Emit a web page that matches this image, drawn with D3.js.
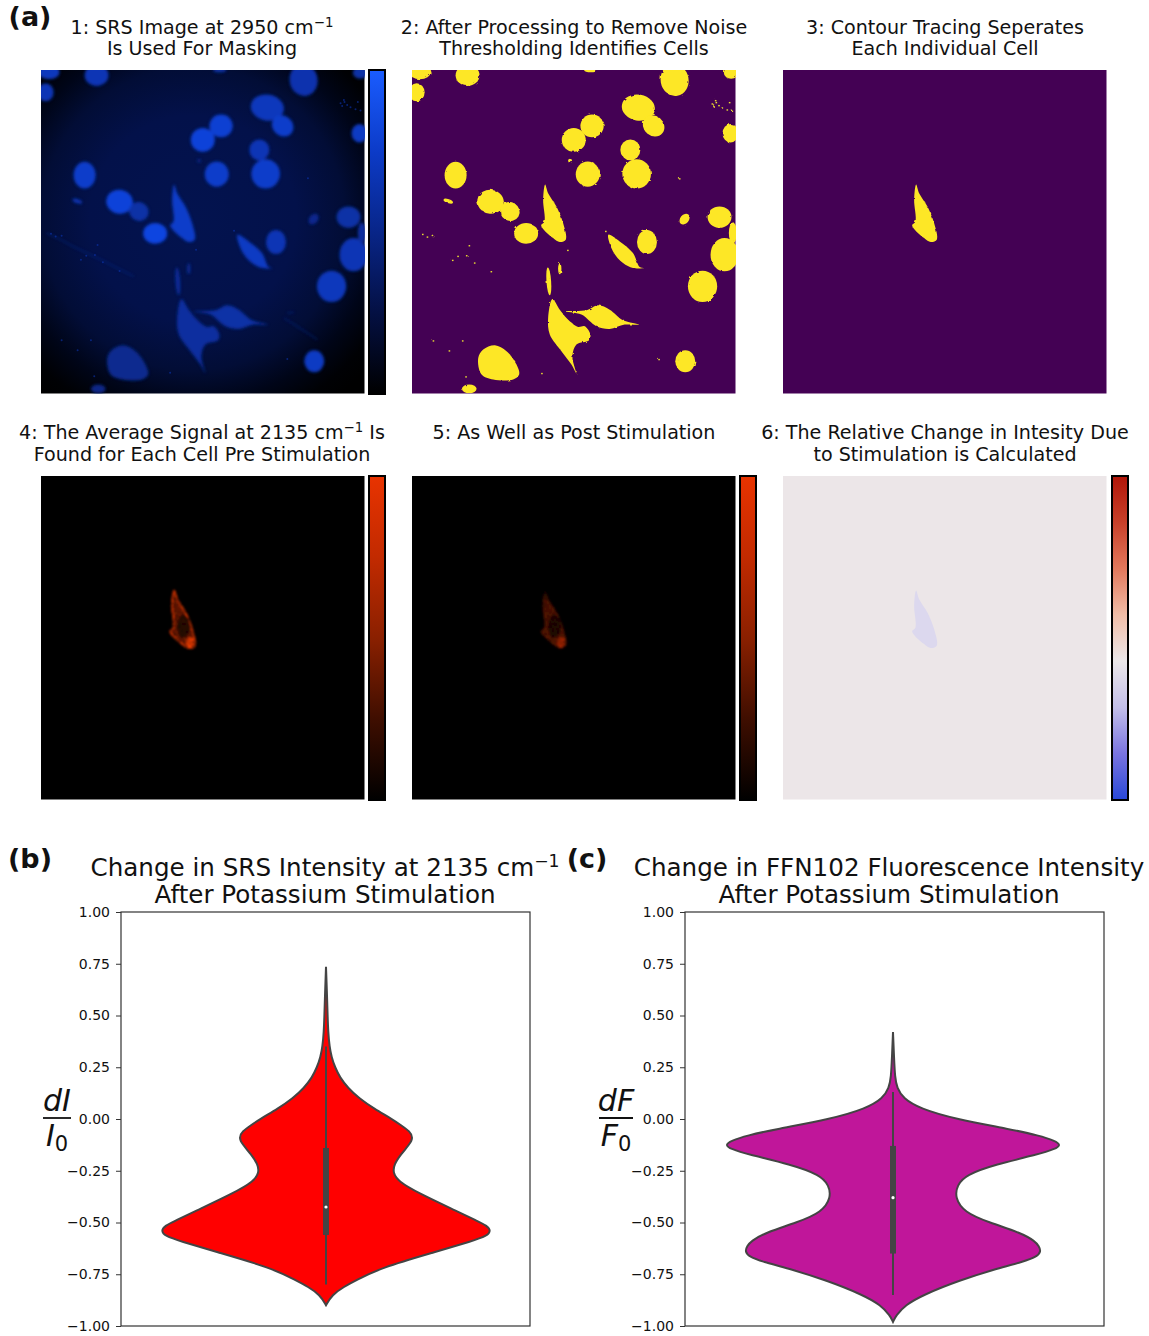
<!DOCTYPE html>
<html><head><meta charset="utf-8">
<script src="https://cdn.jsdelivr.net/npm/d3@7"></script>
<style>html,body{margin:0;padding:0;background:#fff}svg{display:block}text{font-family:"DejaVu Sans",sans-serif;fill:#111}</style>
</head><body><svg id="c" width="1149" height="1336"></svg>
<script>
// ---- DATA ----
// image domain is 0..972 in both directions
const cellEllipses = [ // cx, cy, rx, ry, rotation, brightness
[24,6,32,22,0,.75],[14,67,24,27,0,.7],[167,16,36,32,0,.7],[537,0,20,7,0,.6],[789,30,42,48,-10,.65],[959,8,22,18,0,.6],
[680,113,50,39,10,.75],[726,168,34,30,40,.85],[541,168,35,34,0,.9],[486,210,36,36,0,.95],[957,190,24,28,0,.8],
[656,240,30,31,0,.7],[675,312,43,44,0,.85],[528,313,36,38,0,.85],[131,316,33,40,0,.85],[236,396,40,36,10,.95],
[294,425,30,28,30,.6],[343,491,36,31,0,1],[109,394,15,6,20,.7],[475,273,6,6,0,.3],[819,448,18,13,-50,.4],
[924,442,36,32,0,.6],[706,517,30,36,0,.7],[939,555,42,50,0,.7],[873,650,44,47,0,.75],[821,875,30,33,0,.8],
[444,597,5,17,0,.45],[411,635,7,42,-4,.5],[172,958,22,13,0,.35],[964,490,12,32,0,.55]];
const targetCell = [[400,344],[409,370],[434,410],[454,460],[462,510],[444,517],[424,505],[388,467],[398,455],[394,390]];
const otherCells = [
[[590,495],[624,515],[664,550],[684,592],[697,595],[664,595],[634,580],[604,545]],
[[422,688],[444,720],[474,755],[499,772],[519,770],[536,795],[532,812],[494,825],[482,860],[489,895],[494,912],[479,885],[449,845],[414,795],[409,745]],
[[459,725],[524,722],[559,707],[594,720],[634,752],[682,765],[639,765],[594,778],[554,770],[509,735]],
[[249,827],[284,845],[314,885],[322,915],[304,930],[244,930],[209,915],[199,865],[214,840]]];
const cellBrightness = [.8,.55,.6,.42];
const targetBrightness = .85;
const specks = [[900,100],[912,96],[920,105],[905,108],[930,112],[945,118],[960,122],[952,96],[910,90],[62,498],[170,526],[802,325],[725,525],[162,556],[136,558],[466,540],[120,570],[186,578],[798,870],[740,868],[388,910],[160,920],[62,812],[150,812],[110,842],[236,604],[580,483],[30,492],[44,500]];
const streaks = [[[16,490],[56,508],[96,530],[180,570],[278,620]],[[740,730],[760,728]],[[730,745],[800,790],[830,810]]];
const blueStops = ["#000000","#041043","#082588","#0c3bc8","#1a5cff"];
const redStops = ["#000000","#3f0e00","#8a2000","#c22a00","#e83300"];
const coolStops = ["#2948d8","#7a74e0","#c3bfea","#ece8ea","#f1bda7","#e2785c","#c8402a","#b01508"];
const yTicks = [1,.75,.5,.25,0,-.25,-.5,-.75,-1];
const violinB = [[.735,0],[.6,1],[.5,1.6],[.42,2.2],[.35,3.5],[.3,5.5],[.25,9],[.2,14],[.15,22],[.1,33],[.05,48],[0,66],[-.03,75],[-.06,84],[-.09,87],[-.12,84],[-.17,75],[-.22,68],[-.26,67],[-.3,72],[-.357,92],[-.45,133],[-.49,150],[-.515,161],[-.54,165],[-.565,161],[-.59,146],[-.64,111],[-.72,54],[-.78,30],[-.81,18],[-.85,6],[-.9,0]];
const violinC = [[.42,0],[.3,1],[.2,2],[.15,4],[.1,10],[.05,27],[0,62],[-.05,118],[-.08,146],[-.105,162],[-.125,168],[-.145,162],[-.17,146],[-.22,102],[-.27,73],[-.32,64],[-.38,62],[-.45,71],[-.5,96],[-.55,128],[-.59,142],[-.615,146],[-.64,148],[-.665,144],[-.69,130],[-.72,106],[-.78,66],[-.85,30],[-.9,12],[-.95,3],[-.98,0]];
const boxB = {whisker:[.35,-.8], q:[-.14,-.56], median:-.425};
const boxC = {whisker:[.13,-.85], q:[-.13,-.65], median:-.38};

// ---- LAYOUT ----
const svg = d3.select("#c"), defs = svg.append("defs");
const S = 323.5;
const px = d3.scaleLinear().domain([0,972]).range([0,S]);
const centered = (sel,x,y,size,weight)=>sel.attr("x",x).attr("y",y).attr("text-anchor","middle").style("font-size",size+"px").style("font-weight",weight||"normal");
function sup(t,x,y,size,a,b,c){ // text with superscript
  const el = centered(t.append("text"),x,y,size);
  el.append("tspan").text(a);
  el.append("tspan").attr("dy",-size*.36).style("font-size",(size*.7)+"px").text(b);
  if(c) el.append("tspan").attr("dy",size*.36).text(c);
}
const t = svg.append("g");
const TF = 19.1;
centered(t.append("text"),30,26,27,"bold").text("(a)");
centered(t.append("text"),30,868,27,"bold").text("(b)");
centered(t.append("text"),587,868,27,"bold").text("(c)");
sup(t,202,34,TF,"1: SRS Image at 2950 cm","−1");
centered(t.append("text"),202,55,TF).text("Is Used For Masking");
centered(t.append("text"),574,34,TF).text("2: After Processing to Remove Noise");
centered(t.append("text"),574,55,TF).text("Thresholding Identifies Cells");
centered(t.append("text"),945,34,TF).text("3: Contour Tracing Seperates");
centered(t.append("text"),945,55,TF).text("Each Individual Cell");
sup(t,202,439,TF,"4: The Average Signal at 2135 cm","−1"," Is");
centered(t.append("text"),202,461,TF).text("Found for Each Cell Pre Stimulation");
centered(t.append("text"),574,439,TF).text("5: As Well as Post Stimulation");
centered(t.append("text"),945,439,TF).text("6: The Relative Change in Intesity Due");
centered(t.append("text"),945,461,TF).text("to Stimulation is Calculated");
sup(t,325,876,24.6,"Change in SRS Intensity at 2135 cm","−1");
centered(t.append("text"),325,903,24.6).text("After Potassium Stimulation");
centered(t.append("text"),889,876,24.6).text("Change in FFN102 Fluorescence Intensity");
centered(t.append("text"),889,903,24.6).text("After Potassium Stimulation");

// filters
const blur=(id,s)=>defs.append("filter").attr("id",id).attr("x","-30%").attr("y","-30%").attr("width","160%").attr("height","160%").append("feGaussianBlur").attr("stdDeviation",s);
blur("b1",1.4);
const rough = defs.append("filter").attr("id","rough").attr("x","-5%").attr("y","-5%").attr("width","110%").attr("height","110%");
rough.append("feTurbulence").attr("type","fractalNoise").attr("baseFrequency",.22).attr("numOctaves",2).attr("seed",4).attr("result","n");
rough.append("feDisplacementMap").attr("in","SourceGraphic").attr("in2","n").attr("scale",2.6);
const grain = defs.append("filter").attr("id","grain").attr("x","-20%").attr("y","-20%").attr("width","140%").attr("height","140%");
grain.append("feTurbulence").attr("type","fractalNoise").attr("baseFrequency",.4).attr("numOctaves",2).attr("seed",7).attr("result","n");
grain.append("feColorMatrix").attr("in","n").attr("type","matrix").attr("values","0 0 0 0 0  0 0 0 0 0  0 0 0 0 0  1.6 0 0 0 -.05").attr("result","a");
grain.append("feComposite").attr("in","SourceGraphic").attr("in2","a").attr("operator","in").attr("result","g");
grain.append("feGaussianBlur").attr("in","g").attr("stdDeviation",.8);
const vg = defs.append("radialGradient").attr("id","vig").attr("cx","47%").attr("cy","46%").attr("r","71%");
[[0,"#03134f"],[.45,"#03114a"],[.66,"#020d36"],[.8,"#000518"],[.92,"#000104"],[1,"#000"]].forEach(d=>vg.append("stop").attr("offset",d[0]).attr("stop-color",d[1]));
function cbGrad(id,stops){
  const g=defs.append("linearGradient").attr("id",id).attr("x1",0).attr("y1",1).attr("x2",0).attr("y2",0);
  stops.forEach((c,i)=>g.append("stop").attr("offset",i/(stops.length-1)).attr("stop-color",c));
}
cbGrad("cbBlue",blueStops);cbGrad("cbRed",redStops);cbGrad("cbCool",coolStops);

const smooth = d3.line().x(d=>px(d[0])).y(d=>px(d[1])).curve(d3.curveCatmullRomClosed.alpha(.5));
function panel(x,y,id,bg){
  defs.append("clipPath").attr("id","clip"+id).append("rect").attr("width",S).attr("height",S);
  const g = svg.append("g").attr("transform",`translate(${x},${y})`);
  g.append("rect").attr("width",S).attr("height",S).attr("fill",bg);
  return g.append("g").attr("clip-path",`url(#clip${id})`);
}
function colorbar(x,y,id){
  svg.append("rect").attr("x",x).attr("y",y).attr("width",16).attr("height",S+.5).attr("fill",`url(#${id})`).attr("stroke","#000").attr("stroke-width",2);
}
function drawCells(g,fillFn){
  g.selectAll("ellipse.c").data(cellEllipses).join("ellipse").attr("class","c")
   .attr("rx",d=>px(d[2])).attr("ry",d=>px(d[3]))
   .attr("transform",d=>`translate(${px(d[0])},${px(d[1])}) rotate(${d[4]})`)
   .attr("fill",d=>fillFn(d[5]));
  g.selectAll("path.o").data(otherCells).join("path").attr("class","o").attr("d",smooth).attr("fill",(d,i)=>fillFn(cellBrightness[i]));
  g.append("path").attr("d",smooth(targetCell)).attr("fill",fillFn(targetBrightness));
}
// Panel 1
const blueLevel = d3.scaleLinear().domain([0,.5,1]).range(["#06175f","#0a2c98","#1044e0"]);
const p1 = panel(41,70,1,"url(#vig)");
const p1c = p1.append("g").attr("filter","url(#b1)");
p1c.selectAll("path.s").data(streaks).join("path").attr("class","s").attr("d",d3.line().x(d=>px(d[0])).y(d=>px(d[1]))).attr("fill","none").attr("stroke","#0a2a90").attr("stroke-width",.8);
drawCells(p1c,blueLevel);
p1.append("g").selectAll("circle").data(specks).join("circle").attr("cx",d=>px(d[0])).attr("cy",d=>px(d[1])).attr("r",1).attr("fill","#0b36b0").attr("opacity",.6);
colorbar(369,70,"cbBlue");
// Panel 2
const p2 = panel(412,70,2,"#440154");
const p2c = p2.append("g").attr("filter","url(#rough)");
drawCells(p2c,()=>"#fde725");
p2.append("g").attr("filter","url(#rough)").selectAll("rect").data(specks).join("rect").attr("x",d=>px(d[0])).attr("y",d=>px(d[1])).attr("width",1.6).attr("height",1.4).attr("fill","#e8dc30");
// Panel 3
const p3 = panel(783,70,3,"#440154");
p3.append("path").attr("d",smooth(targetCell)).attr("filter","url(#rough)").attr("fill","#fde725");
// Panels 4 + 5
function redCell(g,edge,edgeW,body,hot){
  const c=g.append("g").attr("filter","url(#grain)");
  c.append("path").attr("d",smooth(targetCell)).attr("fill",body).attr("stroke",edge).attr("stroke-width",edgeW);
  c.append("ellipse").attr("cx",px(428)).attr("cy",px(452)).attr("rx",px(20)).attr("ry",px(34)).attr("fill","#000").attr("opacity",.6);
  c.append("ellipse").attr("cx",px(448)).attr("cy",px(500)).attr("rx",px(14)).attr("ry",px(16)).attr("fill",hot);
}
redCell(panel(41,476,4,"#000"),"#d83400",2,"#7a1c00","#ff4000");
colorbar(369,476,"cbRed");
const p5 = panel(412,476,5,"#000");
const fade = defs.append("linearGradient").attr("id","fade").attr("x1",0).attr("y1",0).attr("x2",0).attr("y2",1);
fade.append("stop").attr("offset",0).attr("stop-color","#000");
fade.append("stop").attr("offset",.14).attr("stop-color","#5a1400");
fade.append("stop").attr("offset",1).attr("stop-color","#661800");
redCell(p5,"url(#fade)",1,"url(#fade)","#b02800");
colorbar(740,476,"cbRed");
// Panel 6
const p6 = panel(783,476,6,"#ece6e8");
p6.append("path").attr("d",smooth(targetCell)).attr("fill","#dcd8ee");
colorbar(1112,476,"cbCool");

// Violins
const y = d3.scaleLinear().domain([-1,1]).range([1326,912]);
function violin(left,right,cx,vals,box,color,top,bot,fx){
  const area = d3.area().y(d=>y(d[0])).x0(d=>cx-d[1]).x1(d=>cx+d[1]).curve(d3.curveBasis);
  svg.append("path").datum(vals).attr("d",area).attr("fill",color).attr("stroke","#444").attr("stroke-width",2);
  svg.append("line").attr("x1",cx).attr("x2",cx).attr("y1",y(box.whisker[0])).attr("y2",y(box.whisker[1])).attr("stroke","#444").attr("stroke-width",2);
  svg.append("rect").attr("x",cx-3).attr("width",6).attr("y",y(box.q[0])).attr("height",y(box.q[1])-y(box.q[0])).attr("fill","#444");
  svg.append("circle").attr("cx",cx).attr("cy",y(box.median)).attr("r",1.6).attr("fill","#fff");
  svg.append("rect").attr("x",left).attr("y",912).attr("width",right-left).attr("height",414).attr("fill","none").attr("stroke","#333").attr("stroke-width",1.2);
  const ax = svg.append("g").attr("transform",`translate(${left},0)`)
    .call(d3.axisLeft(y).tickValues(yTicks).tickSize(5).tickPadding(6).tickFormat(v=>d3.format(".2f")(v).replace("-","−")));
  ax.select(".domain").remove();
  ax.selectAll("text").style("font-size","14px").style("font-family",'"DejaVu Sans"').attr("fill","#111");
  ax.selectAll("line").attr("stroke","#333");
  // fraction label
  const f = svg.append("g");
  centered(f.append("text"),fx,1111,30).style("font-style","italic").text(top);
  const halfRule = top==="dF"?17:14;
  f.append("line").attr("x1",fx-halfRule).attr("x2",fx+halfRule).attr("y1",1118).attr("y2",1118).attr("stroke","#111").attr("stroke-width",1.8);
  const b = centered(f.append("text"),fx,1146,30);
  b.append("tspan").style("font-style","italic").text(bot);
  b.append("tspan").attr("dy",5).style("font-size","21px").text("0");
}
violin(121,530,326,violinB,boxB,"#ff0000","dI","I",57);
violin(685,1104,893,violinC,boxC,"#c0169a","dF","F",616);
</script></body></html>
